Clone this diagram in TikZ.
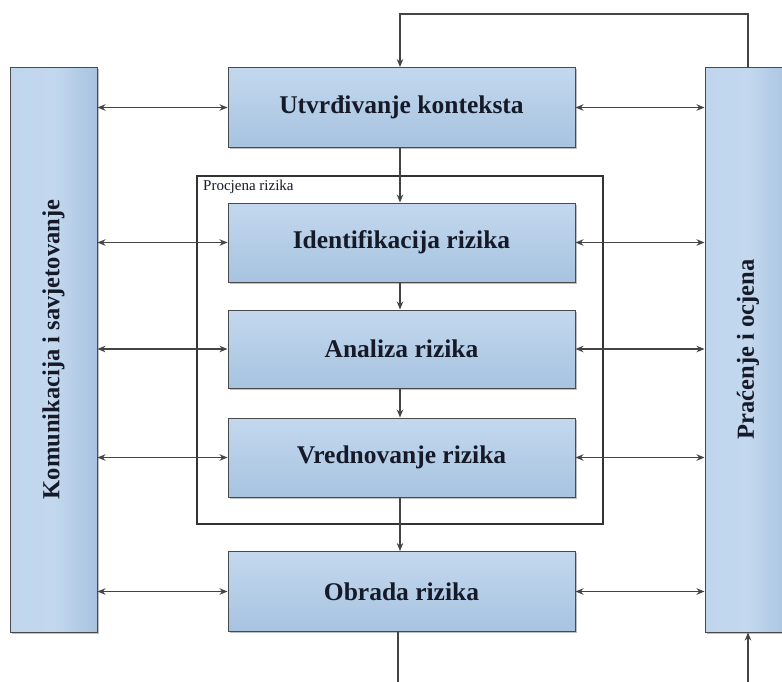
\documentclass[tikz,border=0pt]{standalone}
\usepackage{fontspec}
\setmainfont{Liberation Serif}
\usetikzlibrary{arrows.meta,shadows}
\definecolor{boxtop}{HTML}{C3D8EE}
\definecolor{boxbot}{HTML}{A7C3E0}
\definecolor{boxedge}{HTML}{4A4A4A}
\definecolor{linec}{HTML}{444444}
\definecolor{txt}{HTML}{161A28}
\tikzset{
  stepbox/.style={draw=boxedge, line width=1pt, rectangle, minimum width=347pt,
    top color=boxtop, bottom color=boxbot, text=txt,
    font=\bfseries\fontsize{25.5}{30}\selectfont,
    drop shadow={shadow xshift=1.5pt, shadow yshift=-1.5pt, opacity=0.25, fill=black}},
  sidebox/.style={draw=boxedge, line width=1pt, rectangle, minimum width=87pt, minimum height=565pt,
    left color=boxtop!90!boxbot, right color=boxbot, middle color=boxtop, text=txt,
    font=\bfseries\fontsize{24.5}{29}\selectfont,
    drop shadow={shadow xshift=1.5pt, shadow yshift=-1.5pt, opacity=0.25, fill=black}},
  conn/.style={draw=linec, line width=1.2pt},
  arr/.style={conn, -{Stealth[length=8pt,width=6.5pt]}},
  dbl/.style={conn, {Stealth[length=8pt,width=6.5pt]}-{Stealth[length=8pt,width=6.5pt]}},
}
\begin{document}
\begin{tikzpicture}[x=1pt,y=-1pt]
\useasboundingbox (0,0) rectangle (782,681);
\fill[white] (0,0) rectangle (782,681);
% frame
\node[draw=black!80, line width=2.8pt, rectangle, minimum width=406pt, minimum height=348pt, inner sep=0pt] (frame) at (400,350) {};
\node[anchor=north west, inner sep=0pt, text=txt, font=\fontsize{15}{17}\selectfont] (flabel) at (203,180) {Procjena rizika};
% boxes
\node[stepbox, minimum height=80pt] (ctx) at (401.5,107.5) {Utvrđivanje konteksta};
\node[stepbox, minimum height=79pt] (ident) at (401.5,242.5) {Identifikacija rizika};
\node[stepbox, minimum height=78pt] (anal) at (401.5,349) {Analiza rizika};
\node[stepbox, minimum height=79pt] (vred) at (401.5,457.5) {Vrednovanje rizika};
\node[stepbox, minimum height=80pt] (obr) at (401.5,591.5) {Obrada rizika};
\node[sidebox] (kom) at (53.5,349.5) {\rotatebox{90}{Komunikacija i savjetovanje}};
\node[sidebox, minimum width=86pt] (prac) at (748,349.5) {\rotatebox{90}{Praćenje i ocjena}};
% coordinates
\coordinate (fbtop) at (748,14);
\coordinate (fbleft) at (400,14);
\coordinate (outbot) at (398,690);
\coordinate (inbot) at (748,690);
% vertical flow
\draw[arr] (ctx.south -| fbleft) -- (ident.north -| fbleft);
\draw[arr] (ident.south -| fbleft) -- (anal.north -| fbleft);
\draw[arr] (anal.south -| fbleft) -- (vred.north -| fbleft);
\draw[arr] (vred.south -| fbleft) -- (obr.north -| fbleft);
\draw[conn] (obr.south -| outbot) -- (outbot);
\draw[arr] (inbot) -- (prac.south |- inbot) -- (prac.south);
% feedback
\draw[arr] (prac.north) -- (fbtop) -- (fbleft) -- (ctx.north -| fbleft);
% horizontal double arrows
\foreach \n in {ctx,ident,anal,vred,obr}{
  \draw[dbl] (kom.east |- \n.west) -- (\n.west);
  \draw[dbl] (\n.east) -- (prac.west |- \n.east);
}
\end{tikzpicture}
\end{document}
